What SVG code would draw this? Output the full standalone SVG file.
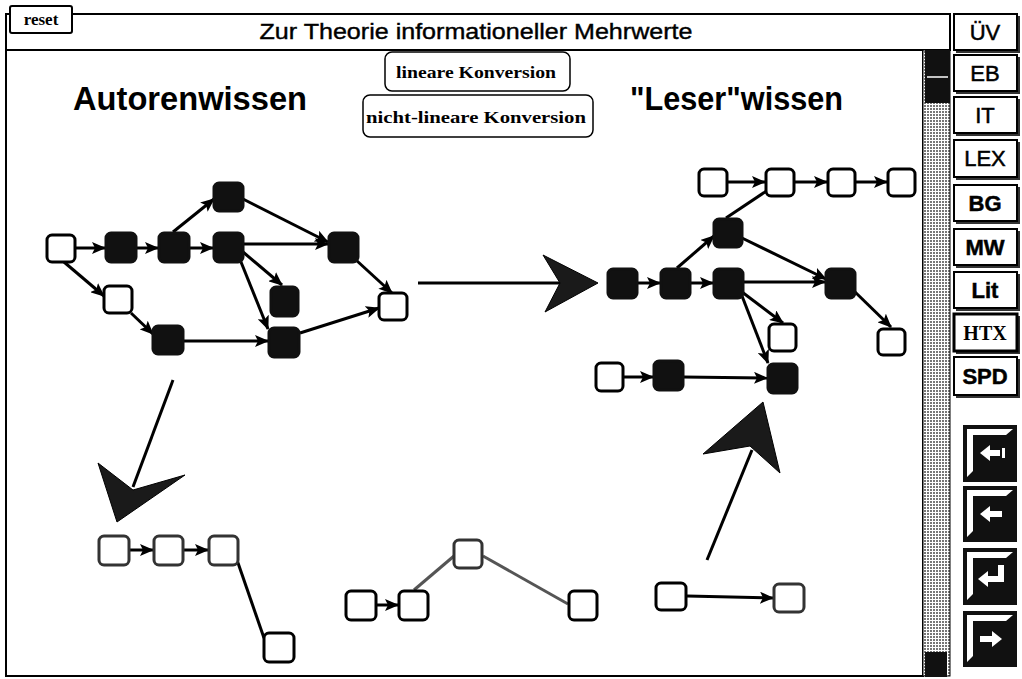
<svg xmlns="http://www.w3.org/2000/svg" width="1022" height="679" viewBox="0 0 1022 679">
<style>
.frame{fill:#fff;stroke:#000;stroke-width:2}
.w{fill:#fff;stroke:#000;stroke-width:3}
.b{fill:#111;stroke:#111;stroke-width:3}
.g{fill:#fff;stroke:#333;stroke-width:3}
.e{fill:none;stroke:#000;stroke-width:3}
.eg{fill:none;stroke:#555;stroke-width:3}
.big{fill:#1a1a1a;stroke:#000;stroke-width:1}
.btn{fill:#fff;stroke:#000;stroke-width:2}
.sh{fill:#333}
.bl{font-family:"Liberation Sans",Arial,sans-serif;font-size:22px;text-anchor:middle;fill:#000;stroke:#000;stroke-width:0.5}
.kv{font-family:"Liberation Serif","Times New Roman",serif;font-weight:bold;font-size:16px;text-anchor:middle;fill:#000}
.hd{font-family:"Liberation Sans",Arial,sans-serif;font-weight:bold;font-size:33px;fill:#000}
.nav{fill:#111}
.bev{fill:#fff}
</style>
<defs>
<marker id="ah" markerUnits="userSpaceOnUse" markerWidth="14" markerHeight="12" refX="13" refY="6" orient="auto">
<path d="M0,0 L14,6 L0,12 L3,6 z" fill="#000"/>
</marker>
<pattern id="dots" width="3" height="3" patternUnits="userSpaceOnUse">
<rect width="3" height="3" fill="#fff"/>
<rect width="2" height="2" fill="#777"/>
</pattern>
</defs>

<!-- window -->
<g id="window">
<rect x="6" y="50" width="917" height="626" class="frame"/>
<rect x="6" y="14" width="944" height="36" class="frame"/>
<text x="476" y="39" font-family="'Liberation Sans',Arial,sans-serif" font-size="22" stroke="#000" stroke-width="0.4" text-anchor="middle" textLength="433" lengthAdjust="spacingAndGlyphs">Zur Theorie informationeller Mehrwerte</text>
</g>

<g id="reset">
<rect x="10" y="6" width="62" height="27" rx="2" fill="#fff" stroke="#000" stroke-width="2"/>
<text x="41" y="25" font-family="'Liberation Serif','Times New Roman',serif" font-weight="bold" font-size="17" text-anchor="middle">reset</text>
</g>

<!-- scrollbar -->
<g id="scrollbar">
<rect x="923" y="50" width="27" height="626" fill="url(#dots)" stroke="#000" stroke-width="1"/>
<rect x="925" y="50" width="25" height="53" fill="#111"/>
<line x1="927" y1="77" x2="948" y2="77" stroke="#fff" stroke-width="1.5"/>
<rect x="925" y="652" width="22" height="25" fill="#111"/>
</g>

<!-- headings -->
<text id="autorenwissen" class="hd" x="73" y="110" textLength="234" lengthAdjust="spacingAndGlyphs">Autorenwissen</text>
<text id="leserwissen" class="hd" x="630" y="110" textLength="213" lengthAdjust="spacingAndGlyphs">"Leser"wissen</text>

<g id="btn-linear">
<rect x="385" y="52" width="185" height="39" rx="7" fill="#fff" stroke="#000" stroke-width="1.5"/>
<text class="kv" x="476" y="78" textLength="160" lengthAdjust="spacingAndGlyphs">lineare Konversion</text>
</g>
<g id="btn-nonlinear">
<rect x="363" y="95" width="230" height="42" rx="7" fill="#fff" stroke="#000" stroke-width="1.5"/>
<text class="kv" x="476" y="123" textLength="220" lengthAdjust="spacingAndGlyphs">nicht-lineare Konversion</text>
</g>

<!-- side buttons -->
<g id="side-buttons">
<g id="b-uv"><rect class="sh" x="956" y="16" width="64" height="37"/><rect class="btn" x="954" y="14" width="63" height="36"/><text class="bl" x="985" y="40">ÜV</text></g>
<g id="b-eb"><rect class="sh" x="956" y="57" width="64" height="37"/><rect class="btn" x="954" y="55" width="63" height="36"/><text class="bl" x="985" y="81">EB</text></g>
<g id="b-it"><rect class="sh" x="956" y="99" width="64" height="37"/><rect class="btn" x="954" y="97" width="63" height="36"/><text class="bl" x="985" y="123">IT</text></g>
<g id="b-lex"><rect class="sh" x="956" y="142" width="64" height="38"/><rect class="btn" x="954" y="140" width="63" height="37"/><text class="bl" x="985" y="166">LEX</text></g>
<g id="b-bg"><rect class="sh" x="956" y="187" width="64" height="37"/><rect class="btn" x="954" y="185" width="63" height="36"/><text class="bl" x="985" y="211" font-weight="bold">BG</text></g>
<g id="b-mw"><rect class="sh" x="956" y="231" width="64" height="37"/><rect class="btn" x="954" y="229" width="63" height="36"/><text class="bl" x="985" y="255" font-weight="bold">MW</text></g>
<g id="b-lit"><rect class="sh" x="956" y="274" width="64" height="37"/><rect class="btn" x="954" y="272" width="63" height="36"/><text class="bl" x="985" y="298" font-weight="bold">Lit</text></g>
<g id="b-htx"><rect class="sh" x="956" y="316" width="64" height="38"/><rect x="954" y="314" width="63" height="37" fill="#fff" stroke="#000" stroke-width="3"/><text x="985" y="340" font-family="'Liberation Serif','Times New Roman',serif" font-weight="bold" font-size="20" text-anchor="middle">HTX</text></g>
<g id="b-spd"><rect class="sh" x="956" y="359" width="64" height="39"/><rect class="btn" x="954" y="357" width="63" height="38"/><text class="bl" x="985" y="384" font-weight="bold">SPD</text></g>
</g>

<!-- nav buttons -->
<g id="nav-first">
<rect class="nav" x="963" y="425" width="54" height="57"/>
<polygon class="bev" points="967,429 1013,429 1006,435 973,435 973,471 967,477"/>
<polygon class="bev" points="980,453 990,445 990,450 1000,450 1000,456 990,456 990,461"/>
<rect class="bev" x="1002" y="448" width="3" height="10"/>
</g>
<g id="nav-back">
<rect class="nav" x="963" y="486" width="54" height="56"/>
<polygon class="bev" points="967,490 1013,490 1006,496 973,496 973,531 967,537"/>
<polygon class="bev" points="980,514 990,506 990,511 1002,511 1002,517 990,517 990,522"/>
</g>
<g id="nav-return">
<rect class="nav" x="963" y="548" width="54" height="57"/>
<polygon class="bev" points="967,552 1013,552 1006,558 973,558 973,594 967,600"/>
<polygon class="bev" points="978,579 988,571 988,576 998,576 998,565 1004,565 1004,582 988,582 988,587"/>
</g>
<g id="nav-next">
<rect class="nav" x="963" y="611" width="54" height="56"/>
<polygon class="bev" points="967,615 1013,615 1006,621 973,621 973,656 967,662"/>
<polygon class="bev" points="1002,639 992,631 992,636 980,636 980,642 992,642 992,647"/>
</g>

<!-- connectors -->
<g id="connectors">
<!-- left graph -->
<path class="e" d="M75,248 L105,248" marker-end="url(#ah)"/>
<path class="e" d="M137,248 L158,248" marker-end="url(#ah)"/>
<path class="e" d="M190,248 L213,248" marker-end="url(#ah)"/>
<path class="e" d="M173,232 L214,199" marker-end="url(#ah)"/>
<path class="e" d="M243,199 L328,242" marker-end="url(#ah)"/>
<path class="e" d="M243,244 L328,244" marker-end="url(#ah)"/>
<path class="e" d="M243,252 L282,285" marker-end="url(#ah)"/>
<path class="e" d="M241,262 L268,329" marker-end="url(#ah)"/>
<path class="e" d="M64,262 L104,296" marker-end="url(#ah)"/>
<path class="e" d="M131,313 L153,334" marker-end="url(#ah)"/>
<path class="e" d="M183,341 L268,341" marker-end="url(#ah)"/>
<path class="e" d="M300,333 L379,308" marker-end="url(#ah)"/>
<path class="e" d="M356,260 L392,293" marker-end="url(#ah)"/>
<!-- big right arrow -->
<path class="e" d="M418,283 L560,283"/>
<polygon class="big" points="598,283 543,255 560,283 545,312"/>
<!-- right graph -->
<path class="e" d="M727,182 L765,182" marker-end="url(#ah)"/>
<path class="e" d="M795,182 L827,182" marker-end="url(#ah)"/>
<path class="e" d="M855,182 L887,182" marker-end="url(#ah)"/>
<path class="e" d="M726,218 L768,190"/>
<path class="e" d="M677,268 L714,236" marker-end="url(#ah)"/>
<path class="e" d="M742,238 L826,279" marker-end="url(#ah)"/>
<path class="e" d="M637,283 L660,283" marker-end="url(#ah)"/>
<path class="e" d="M690,283 L713,283" marker-end="url(#ah)"/>
<path class="e" d="M743,282 L825,282" marker-end="url(#ah)"/>
<path class="e" d="M742,292 L783,323" marker-end="url(#ah)"/>
<path class="e" d="M742,296 L768,363" marker-end="url(#ah)"/>
<path class="e" d="M853,290 L891,327" marker-end="url(#ah)"/>
<path class="e" d="M623,377 L653,377" marker-end="url(#ah)"/>
<path class="e" d="M683,377 L767,378" marker-end="url(#ah)"/>
<!-- down-left arrow -->
<path class="e" d="M173,380 L133,487" stroke-width="5"/>
<polygon class="big" points="117,522 98,463 133,490 185,475"/>
<!-- bottom-left chain -->
<path class="e" d="M130,550 L153,550" marker-end="url(#ah)"/>
<path class="e" d="M183,550 L208,550" marker-end="url(#ah)"/>
<path class="e" d="M237,560 L264,638"/>
<!-- bottom-middle -->
<path class="e" d="M377,605 L398,605" marker-end="url(#ah)"/>
<path class="eg" d="M414,590 L454,556"/>
<path class="eg" d="M483,556 L568,604"/>
<!-- bottom-right -->
<path class="e" d="M687,596 L773,598" stroke-width="2" marker-end="url(#ah)"/>
<path class="e" d="M707,560 L752,450" stroke-width="5"/>
<polygon class="big" points="763,402 703,454 750,446 780,473"/>
</g>

<!-- left graph nodes -->
<g id="nA"><rect class="w" x="47" y="235" width="28" height="27" rx="5"/></g>
<g id="nB"><rect class="b" x="106" y="233" width="30" height="29" rx="5"/></g>
<g id="nC"><rect class="b" x="159" y="233" width="30" height="29" rx="5"/></g>
<g id="nD"><rect class="b" x="214" y="183" width="29" height="28" rx="5"/></g>
<g id="nE"><rect class="b" x="214" y="233" width="29" height="29" rx="5"/></g>
<g id="nF"><rect class="b" x="329" y="233" width="29" height="29" rx="5"/></g>
<g id="nG"><rect class="w" x="104" y="286" width="28" height="27" rx="5"/></g>
<g id="nH"><rect class="b" x="271" y="287" width="27" height="29" rx="5"/></g>
<g id="nI"><rect class="b" x="153" y="326" width="30" height="28" rx="5"/></g>
<g id="nJ"><rect class="b" x="269" y="328" width="30" height="29" rx="5"/></g>
<g id="nK"><rect class="w" x="379" y="293" width="28" height="27" rx="5"/></g>

<!-- right graph nodes -->
<g id="r1"><rect class="w" x="699" y="169" width="28" height="27" rx="5"/></g>
<g id="r2"><rect class="w" x="766" y="169" width="28" height="27" rx="5"/></g>
<g id="r3"><rect class="w" x="828" y="169" width="27" height="27" rx="5"/></g>
<g id="r4"><rect class="w" x="888" y="169" width="27" height="27" rx="5"/></g>
<g id="r5"><rect class="b" x="714" y="219" width="28" height="28" rx="5"/></g>
<g id="r6"><rect class="b" x="608" y="269" width="29" height="29" rx="5"/></g>
<g id="r7"><rect class="b" x="661" y="269" width="29" height="29" rx="5"/></g>
<g id="r8"><rect class="b" x="714" y="269" width="29" height="29" rx="5"/></g>
<g id="r9"><rect class="b" x="826" y="269" width="29" height="29" rx="5"/></g>
<g id="r10"><rect class="w" x="769" y="324" width="27" height="27" rx="5"/></g>
<g id="r11"><rect class="w" x="878" y="329" width="27" height="26" rx="5"/></g>
<g id="r12"><rect class="w" x="596" y="363" width="27" height="28" rx="5"/></g>
<g id="r13"><rect class="b" x="654" y="361" width="29" height="29" rx="5"/></g>
<g id="r14"><rect class="b" x="768" y="364" width="29" height="29" rx="5"/></g>

<!-- bottom-left chain nodes -->
<g id="l1"><rect class="g" x="99" y="536" width="30" height="29" rx="5"/></g>
<g id="l2"><rect class="g" x="154" y="536" width="29" height="29" rx="5"/></g>
<g id="l3"><rect class="g" x="209" y="536" width="29" height="29" rx="5"/></g>
<g id="l4"><rect class="w" x="264" y="633" width="30" height="29" rx="5"/></g>

<!-- bottom-middle nodes -->
<g id="m1"><rect class="w" x="346" y="591" width="30" height="29" rx="5"/></g>
<g id="m2"><rect class="w" x="399" y="591" width="29" height="29" rx="5"/></g>
<g id="m3"><rect class="g" x="454" y="540" width="28" height="28" rx="5"/></g>
<g id="m4"><rect class="w" x="569" y="591" width="28" height="29" rx="5"/></g>

<!-- bottom-right nodes -->
<g id="n1"><rect class="w" x="656" y="583" width="30" height="27" rx="5"/></g>
<g id="n2"><rect class="g" x="774" y="584" width="30" height="28" rx="5"/></g>
</svg>
